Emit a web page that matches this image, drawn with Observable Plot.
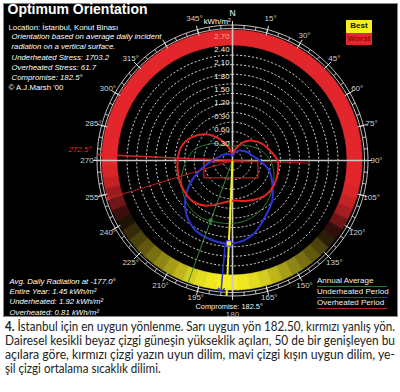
<!DOCTYPE html>
<html><head><meta charset="utf-8">
<script src="https://cdn.jsdelivr.net/npm/d3@7"></script>
<script src="https://cdn.jsdelivr.net/npm/@observablehq/plot@0.6"></script>
<style>
body{margin:0;background:#fff;width:400px;height:392px;overflow:hidden;font-family:"Liberation Sans",Arial,sans-serif}
#wrap{position:relative;width:400px;height:320px}
#wrap svg{position:absolute;left:0;top:0}
.ov{position:absolute;font-family:"Liberation Sans",Arial,sans-serif;white-space:nowrap}
#caption{position:absolute;left:5px;top:320px;width:390px;font-family:Lato,"Open Sans",sans-serif;font-size:12.6px;line-height:14px;color:#222}
#caption .ln{white-space:nowrap;display:block;transform-origin:0 0}
</style></head><body>
<div id="wrap"></div>
<div id="caption">
<span class="ln"><b>4.</b> İstanbul için en uygun yönlenme. Sarı uygun yön 182.50, kırmızı yanlış yön.</span>
<span class="ln">Dairesel kesikli beyaz çizgi güneşin yükseklik açıları, 50 de bir genişleyen bu</span>
<span class="ln">açılara göre, kırmızı çizgi yazın uyun dilim, mavi çizgi kışın uygun dilim, ye-</span>
<span class="ln">şil çizgi ortalama sıcaklık dilimi.</span>
</div>
<script>
// ---- data (kWh/m² per facade azimuth) ----
const dirs = [0,15,30,45,60,75,90,105,120,135,150,165,180,195,210,225,240,255,270,285,300,315,330,345];
const overheated  = [0.16,0.27,0.47,0.63,0.76,0.87,1.01,1.05,1.08,1.08,1.01,0.94,0.90,0.99,1.17,1.28,1.28,1.26,1.23,1.19,1.05,0.83,0.54,0.29];
const underheated = [0.11,0.18,0.25,0.31,0.38,0.45,0.61,0.85,1.03,1.26,1.46,1.73,1.86,1.84,1.75,1.50,1.12,0.72,0.45,0.31,0.25,0.20,0.16,0.13];
const annual      = [0.31,0.34,0.40,0.47,0.58,0.72,0.85,0.96,1.05,1.17,1.28,1.37,1.41,1.43,1.46,1.41,1.30,1.17,1.03,0.90,0.70,0.54,0.40,0.34];
// best/worst ring score per 5° (-1 worst, +1 best)
const bandDirs = [0,5,10,15,20,25,30,35,40,45,50,55,60,65,70,75,80,85,90,95,100,105,110,115,120,125,130,135,140,145,150,155,160,165,170,175,180,185,190,195,200,205,210,215,220,225,230,235,240,245,250,255,260,265,270,275,280,285,290,295,300,305,310,315,320,325,330,335,340,345,350,355];
const bandScore = [-1,-1,-1,-1,-1,-1,-1,-1,-1,-1,-1,-1,-1,-1,-1,-1,-1,-1,-1,-1,-1,-0.95,-0.85,-0.7,-0.45,-0.15,0.1,0.25,0.35,0.45,0.55,0.65,0.75,0.85,0.92,0.97,1,1,0.97,0.92,0.85,0.75,0.65,0.55,0.45,0.35,0.25,0.15,0.05,-0.2,-0.45,-0.65,-0.85,-0.95,-1,-1,-1,-1,-1,-1,-1,-1,-1,-1,-1,-1,-1,-1,-1,-1,-1,-1];
const radTicks = [0.30,0.60,0.90,1.20,1.50,1.80,2.10,2.40,2.70];
const radTickLabels = ["0.30","0.60","0.90","1.20","1.50","1.80","2.10","2.40","2.70"];
const sunAltitudes = [5,10,15,20,25,30,35,40,45,50,55];
const angleLabelDirs = [15,30,45,60,75,90,105,120,135,150,165,195,210,225,240,255,270,285,300,315,345];
const angleLabels = angleLabelDirs.map(d => d + "°");
const worstDir = 272.5, secondWorstDir = 253, compromiseDir = 182.5, underBestDir = 185, annualBestDir = 200, overStressDir = 92;
const underBestValue = 1.86, annualBestValue = 1.43, overStressValue = 1.75;
// overheated-stress box (kWh/m² plane)
const stressBox = [{x1: -0.63, x2: 0.58, y1: -0.04, y2: -0.40}];
const leftTop = "Location: İstanbul, Konut Binası";
const leftTopItalic = ["Orientation based on average daily incident","radiation on a vertical surface.","Underheated Stress: 1703.2","Overheated Stress: 61.7","Compromise: 182.5°"];
const credit = "© A.J.Marsh '00";
const leftBottom = ["Avg. Daily Radiation at -177.0°","Entire Year: 1.45 kWh/m²","Underheated: 1.92 kWh/m²","Overheated: 0.81 kWh/m²"];

// ---- geometry ----
const K = 44.6, CX = 232, CY = 160, FL = 3, FR = 397, FT = 3, FB = 316;
const rad = d => d * Math.PI / 180;
const P = (r, a) => ({x: r * Math.sin(rad(a)), y: r * Math.cos(rad(a))});
const BAND_IN = 115 / K, BAND_OUT = 130 / K, RING1 = 132 / K, RING2 = 135.5 / K, LBL = 144 / K;
const altR = alt => (60 - alt) / 60 * BAND_IN;
const circle = (r, key) => d3.range(0, 361, 2).map(a => ({...P(r, a), key}));

const bandRows = [];
bandDirs.forEach((d, i) => {
  [d - 2.6, d, d + 2.6].forEach(a => {
    const pi = P(BAND_IN, a), po = P(BAND_OUT, a);
    bandRows.push({seg: i, x1: pi.x, y1: pi.y, x2: po.x, y2: po.y, s: bandScore[i]});
  });
});
const curve = vals => dirs.map((d, i) => P(vals[i], d));
const altRows = sunAltitudes.flatMap(a => circle(altR(a), a));
const ringRows = [...circle(RING1, 1), ...circle(RING2, 2)];
const majorTicks = d3.range(0, 360, 15).map(a => ({a, p1: P(129.5 / K, a), p2: P(139.5 / K, a)}));
const minorTicks = d3.range(0, 360, 5).map(a => ({a, p1: P(RING1, a), p2: P(RING2, a)}));
const radial = (a, r0, r1) => [{p1: P(r0, a), p2: P(r1, a)}];
const lbls = angleLabelDirs.map((d, i) => {
  const s = Math.sin(rad(d)), c = Math.cos(rad(d));
  const r = LBL + (c > 0.9 ? 3 / K : c < -0.9 ? -2 / K : 0);
  const lim = c < -0.9 ? 0.2 : 0.3;
  return {...P(r, d), t: angleLabels[i], anchor: s > lim ? "start" : s < -lim ? "end" : "middle"};
});
const L = {x1: d => d.p1.x, y1: d => d.p1.y, x2: d => d.p2.x, y2: d => d.p2.y};

const FONT = "Liberation Sans, Arial, sans-serif";
const txt = {fill: "#fff", fontFamily: FONT};
const plot = Plot.plot({
  width: 400, height: 320,
  marginLeft: FL, marginRight: 400 - FR, marginTop: FT, marginBottom: 320 - FB,
  x: {domain: [(FL - CX) / K, (FR - CX) / K], axis: null},
  y: {domain: [(CY - FB) / K, (CY - FT) / K], axis: null},
  color: {type: "linear", domain: [-1, 0, 1], range: ["#e3262b", "#120805", "#f6ee22"]},
  style: {background: "transparent", overflow: "visible"},
  marks: [
    Plot.frame({fill: "#000", stroke: "#888"}),
    // best/worst band
    Plot.area(bandRows, {x1: "x1", y1: "y1", x2: "x2", y2: "y2", z: "seg", fill: "s", stroke: "s", strokeWidth: 0.7}),
    // sun altitude circles
    Plot.line(altRows, {x: "x", y: "y", z: "key", stroke: "#e8e8e8", strokeWidth: 0.9, strokeDasharray: "1.3,2.7"}),
    // outer scale rings
    Plot.line(ringRows, {x: "x", y: "y", z: "key", stroke: "#f0f0f0", strokeWidth: 0.8}),
    Plot.link(minorTicks, {...L, stroke: "#f0f0f0", strokeWidth: 0.8}),
    Plot.link(majorTicks, {...L, stroke: "#f0f0f0", strokeWidth: 0.9}),
    // axes cross
    Plot.link([...radial(90, -RING2, RING2), ...radial(0, -RING2, RING2)], {...L, stroke: "#c8c8c8", strokeWidth: 1.6}),
    // overheated stress box & indicator
    Plot.rect(stressBox, {x1: "x1", x2: "x2", y1: "y1", y2: "y2", fill: "none", stroke: "#c81e1e", strokeWidth: 1.2}),
    Plot.link(radial(overStressDir, 0, overStressValue), {...L, stroke: "#b01c1c", strokeWidth: 1}),
    // radiation curves
    Plot.line(curve(annual), {x: "x", y: "y", curve: "catmull-rom-closed", stroke: "#2f7a33", strokeWidth: 1}),
    Plot.line(curve(underheated), {x: "x", y: "y", curve: "catmull-rom-closed", stroke: "#2b35d6", strokeWidth: 2}),
    Plot.line(curve(overheated), {x: "x", y: "y", curve: "catmull-rom-closed", stroke: "#e42222", strokeWidth: 2}),
    // direction indicators
    Plot.link(radial(worstDir, 0, RING2), {...L, stroke: "#e42222", strokeWidth: 1.5}),
    Plot.link(radial(secondWorstDir, 0, BAND_OUT), {...L, stroke: "#c02020", strokeWidth: 1}),
    Plot.link(radial(annualBestDir, 0, BAND_OUT), {...L, stroke: "#3a8a3a", strokeWidth: 1}),
    Plot.link(radial(underBestDir, underBestValue, BAND_OUT), {...L, stroke: "#2b35d6", strokeWidth: 1.5, markerEnd: "arrow"}),
    Plot.link(radial(compromiseDir, 0, RING2), {...L, stroke: "#f4ee1a", strokeWidth: 2}),
    Plot.dot([P(annualBestValue, annualBestDir)], {x: "x", y: "y", symbol: "square", r: 2.2, fill: "#3a8a3a"}),
    Plot.dot([P(underBestValue, compromiseDir)], {x: "x", y: "y", symbol: "square", r: 3, fill: "#f4ee1a", stroke: "#2b35d6", strokeWidth: 1}),
    Plot.dot([P(BAND_OUT, worstDir), P(BAND_OUT, secondWorstDir)], {x: "x", y: "y", r: 2, fill: "#e42222"}),
    // radiation scale labels
    Plot.text(radTicks, {x: 0, y: d => d, text: (d, i) => radTickLabels[i], textAnchor: "end", dx: -3, dy: -4, fontSize: 7.8, fill: d => d > 2.6 ? "#f7b0a8" : "#f2f2f2", fontFamily: FONT}),
    Plot.text(["kWh/m²"], {x: 0, y: 139 / K, textAnchor: "end", dx: -2, fontSize: 7.8, ...txt}),
    Plot.text(["N"], {x: 0, y: 147 / K, fontSize: 8.5, ...txt}),
    // angle labels
    Plot.text(lbls, {x: "x", y: "y", text: "t", textAnchor: "anchor", fontSize: 8, fill: "#d2d2d2", fontFamily: FONT}),
    Plot.text([P(153 / K, 180)], {x: "x", y: "y", text: () => "180", dy: 1, fontSize: 8, fill: "#bdbdbd", fontFamily: FONT}),
    Plot.text([P(141 / K, worstDir)], {x: "x", y: "y", text: () => worstDir + "°", textAnchor: "end", dy: -5, fontSize: 8, fill: "#e42a2a", fontStyle: "italic", fontFamily: FONT}),
    Plot.text([P(145 / K, compromiseDir)], {x: "x", y: "y", text: () => "Compromise: " + compromiseDir + "°", dx: 3, dy: 1.5, fontSize: 7.4, fill: "#f4f4f4", fontFamily: FONT}),
    // title block
    Plot.text(["Optimum Orientation"], {frameAnchor: "top-left", dx: 4, dy: 1, lineAnchor: "top", fontSize: 14, fontWeight: "bold", ...txt}),
    Plot.text([leftTop], {frameAnchor: "top-left", dx: 5, dy: 20.5, fontSize: 7.8, ...txt}),
    ...leftTopItalic.map((t, i) => Plot.text([t], {frameAnchor: "top-left", dx: 8, dy: 30 + i * 10.3, fontSize: 7.8, fontStyle: "italic", ...txt})),
    Plot.text([credit], {frameAnchor: "top-left", dx: 5, dy: 81, fontSize: 7.8, ...txt}),
    ...leftBottom.map((t, i) => Plot.text([t], {frameAnchor: "top-left", dx: 6, dy: 275 + i * 10.2, fontSize: 7.8, fontStyle: "italic", ...txt}))
  ]
});
document.getElementById("wrap").appendChild(plot);

// legends (HTML overlays)
const wrap = document.getElementById("wrap");
function ov(html, css) { const d = document.createElement("div"); d.className = "ov"; d.innerHTML = html; Object.assign(d.style, css); wrap.appendChild(d); return d; }
const bestWorst = [{label: "Best", bg: "#f6ee22", fg: "#111"}, {label: "Worst", bg: "#e3262b", fg: "#8a0d0d"}];
bestWorst.forEach((b, i) => ov(b.label, {left: "346px", top: (20 + i * 12.5) + "px", width: "26px", height: "12.5px", lineHeight: "12.5px", background: b.bg, color: b.fg, fontSize: "8px", fontWeight: "bold", textAlign: "center"}));
const seriesLegend = [{label: "Annual Average", color: "#2f7a33"}, {label: "Underheated Period", color: "#2b35d6"}, {label: "Overheated Period", color: "#b22020"}];
seriesLegend.forEach((s, i) => ov(s.label, {left: "317px", top: (276 + i * 11) + "px", width: "70px", height: "10px", lineHeight: "10px", fontSize: "8px", color: "#f0f0f0", borderBottom: "1.5px solid " + s.color}));

// caption lines: condense each to the column width
const lines = document.querySelectorAll("#caption .ln");
let k0 = 1;
lines.forEach((el, i) => {
  el.style.display = "inline-block";
  const w = el.getBoundingClientRect().width;
  const k = i < 3 ? 390 / w : k0;
  if (i === 0) k0 = k;
  el.style.transform = `scaleX(${k})`;
  el.style.display = "block";
  el.style.width = w + "px";
});
</script>
</body></html>
